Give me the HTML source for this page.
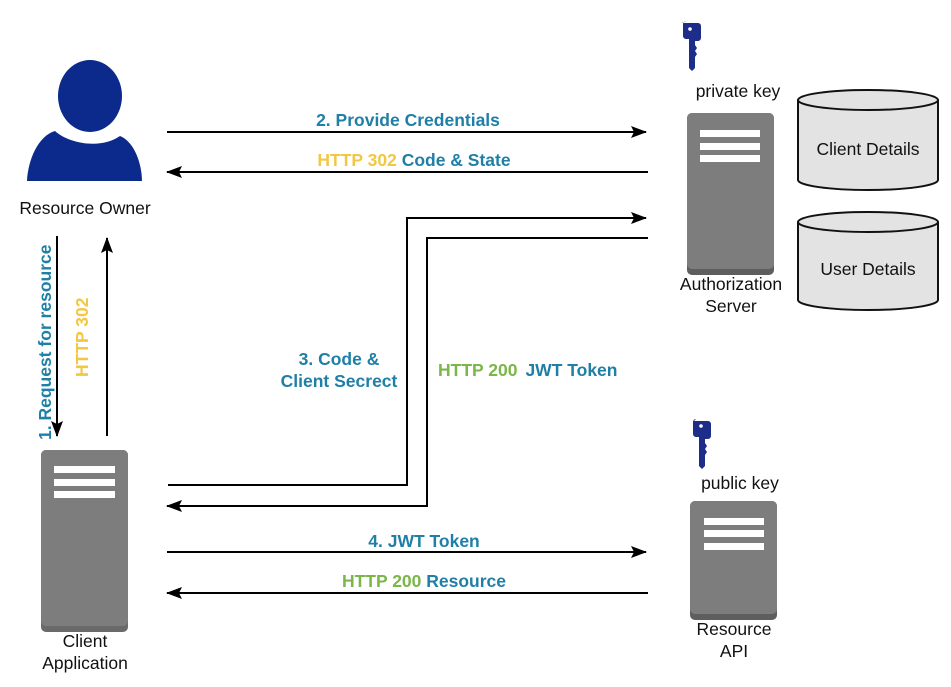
<!DOCTYPE html>
<html><head><meta charset="utf-8"><style>
html,body{margin:0;padding:0;background:#fff;}
svg{display:block;}
text{font-family:"Liberation Sans",Arial,sans-serif;}
.b{font-weight:bold;font-size:17.5px;}
.n{font-size:17.5px;fill:#111;}
</style></head><body>
<svg width="951" height="687" viewBox="0 0 951 687" xmlns="http://www.w3.org/2000/svg">
<defs>
<marker id="ar" markerWidth="16" markerHeight="12" refX="15" refY="6" orient="auto" markerUnits="userSpaceOnUse">
<path d="M0,0 L16,6 L0,12 L3,6 Z" fill="#000"/></marker>
</defs>

<ellipse cx="90" cy="96" rx="32" ry="36" fill="#0b2a8c"/>
<path d="M27,181 C28,160 38,136 55,131 C68,143 100,150 120,136 C135,142 142,165 142,181 Z" fill="#0b2a8c"/>
<text x="85" y="214" class="n" text-anchor="middle">Resource Owner</text>

<line x1="57" y1="236" x2="57" y2="436" stroke="#000" stroke-width="2" marker-end="url(#ar)"/>
<line x1="107" y1="436" x2="107" y2="238" stroke="#000" stroke-width="2" marker-end="url(#ar)"/>
<text transform="translate(51,440) rotate(-90)" class="b" fill="#1f7fa6">1. Request for resource</text>
<text transform="translate(88,377) rotate(-90)" class="b" fill="#f2c744">HTTP 302</text>

<rect x="41" y="450" width="87" height="182" rx="5" fill="#6a6a6a"/>
<rect x="41" y="450" width="87" height="176" rx="5" fill="#7d7d7d"/>
<rect x="54" y="466" width="61" height="7" fill="#fff"/>
<rect x="54" y="479" width="61" height="7" fill="#fff"/>
<rect x="54" y="491" width="61" height="7" fill="#fff"/>
<text x="85" y="647" class="n" text-anchor="middle">Client</text>
<text x="85" y="669" class="n" text-anchor="middle">Application</text>

<rect x="687" y="113" width="87" height="162" rx="5" fill="#5e5e5e"/>
<rect x="687" y="113" width="87" height="156" rx="5" fill="#7d7d7d"/>
<rect x="700" y="130" width="60" height="7" fill="#fff"/>
<rect x="700" y="143" width="60" height="7" fill="#fff"/>
<rect x="700" y="155" width="60" height="7" fill="#fff"/>
<text x="731" y="290" class="n" text-anchor="middle">Authorization</text>
<text x="731" y="312" class="n" text-anchor="middle">Server</text>
<text x="738" y="97" class="n" text-anchor="middle">private key</text>

<rect x="690" y="501" width="87" height="119" rx="5" fill="#5e5e5e"/>
<rect x="690" y="501" width="87" height="113" rx="5" fill="#7d7d7d"/>
<rect x="704" y="518" width="60" height="7" fill="#fff"/>
<rect x="704" y="530" width="60" height="7" fill="#fff"/>
<rect x="704" y="543" width="60" height="7" fill="#fff"/>
<text x="734" y="635" class="n" text-anchor="middle">Resource</text>
<text x="734" y="657" class="n" text-anchor="middle">API</text>
<text x="740" y="489" class="n" text-anchor="middle">public key</text>

<g fill="#1f2d8a">
<path d="M682,23 h16 a3,3 0 0 1 3,3 v12 a3,3 0 0 1 -3,3 h-3 v4 l2,3 l-2,3 l2,3 l-2,3 v11 l-3,3 l-3,-3 v-29 h-3 a3,3 0 0 1 -3,-3 v-12 a3,3 0 0 1 3,-3z"/>
<path d="M694,421 h14 a3,3 0 0 1 3,3 v12 a3,3 0 0 1 -3,3 h-3 v4 l2,3 l-2,3 l2,3 l-2,3 v11 l-3,3 l-3,-3 v-29 h-3 a3,3 0 0 1 -3,-3 v-12 a3,3 0 0 1 3,-3z"/>
</g>
<circle cx="690" cy="29" r="1.8" fill="#fff"/><circle cx="701" cy="426" r="1.8" fill="#fff"/>

<g stroke="#111" stroke-width="2" fill="#e3e3e3">
<path d="M798,100 v80 a70,10 0 0 0 140,0 v-80"/>
<ellipse cx="868" cy="100" rx="70" ry="10"/>
<path d="M798,222 v78 a70,10 0 0 0 140,0 v-78"/>
<ellipse cx="868" cy="222" rx="70" ry="10"/>
</g>
<text x="868" y="155" class="n" text-anchor="middle" font-size="19">Client Details</text>
<text x="868" y="275" class="n" text-anchor="middle" font-size="19">User Details</text>

<g stroke="#000" stroke-width="2" fill="none">
<line x1="167" y1="132" x2="646" y2="132" marker-end="url(#ar)"/>
<line x1="648" y1="172" x2="167" y2="172" marker-end="url(#ar)"/>
<polyline points="168,485 407,485 407,218 646,218" marker-end="url(#ar)"/>
<polyline points="648,238 427,238 427,506 167,506" marker-end="url(#ar)"/>
<line x1="167" y1="552" x2="646" y2="552" marker-end="url(#ar)"/>
<line x1="648" y1="593" x2="167" y2="593" marker-end="url(#ar)"/>
</g>

<text x="408" y="126" class="b" fill="#1f7fa6" text-anchor="middle">2. Provide Credentials</text>
<text x="414" y="166" class="b" text-anchor="middle"><tspan fill="#f2c744">HTTP 302</tspan><tspan fill="#1f7fa6"> Code &amp; State</tspan></text>
<text x="339" y="365" class="b" fill="#1f7fa6" text-anchor="middle">3. Code &amp;</text>
<text x="339" y="387" class="b" fill="#1f7fa6" text-anchor="middle">Client Secrect</text>
<text x="438" y="376" class="b"><tspan fill="#7ab648">HTTP 200</tspan><tspan fill="#1f7fa6" dx="8">JWT Token</tspan></text>
<text x="424" y="547" class="b" fill="#1f7fa6" text-anchor="middle">4. JWT Token</text>
<text x="424" y="587" class="b" text-anchor="middle"><tspan fill="#7ab648">HTTP 200</tspan><tspan fill="#1f7fa6"> Resource</tspan></text>
</svg>
</body></html>
